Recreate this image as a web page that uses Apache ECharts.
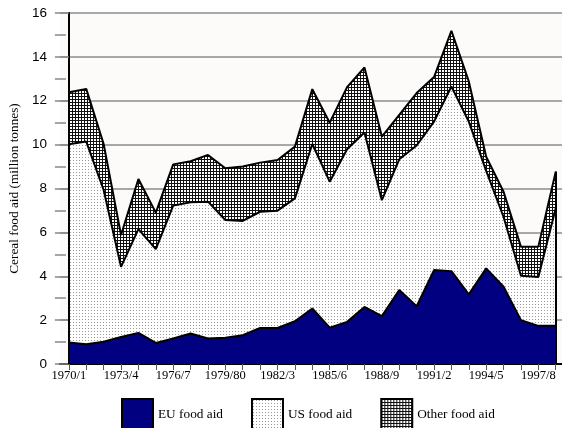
<!DOCTYPE html>
<html>
<head>
<meta charset="utf-8">
<script src="https://cdn.jsdelivr.net/npm/echarts@6/dist/echarts.min.js"></script>
<style>
html,body{margin:0;padding:0;background:#fff;}
#c{width:562px;height:428px;}
</style>
</head>
<body>
<div id="c"></div>
<script>
const categories = ['1970/1','1971/2','1972/3','1973/4','1974/5','1975/6','1976/7','1977/8','1978/9','1979/80',
  '1980/1','1981/2','1982/3','1983/4','1984/5','1985/6','1986/7','1987/8','1988/9','1989/90',
  '1990/1','1991/2','1992/3','1993/4','1994/5','1995/6','1996/7','1997/8','1998/9'];
const labelIndices = [0,3,6,9,12,15,18,21,24,27];
const euAid = [0.98,0.90,1.02,1.23,1.42,0.96,1.16,1.39,1.16,1.20,1.31,1.64,1.64,1.95,2.53,1.66,1.92,2.60,2.18,3.37,2.63,4.28,4.23,3.18,4.36,3.52,2.00,1.74,1.74];
const usAid = [9.04,9.24,6.91,3.20,4.73,4.28,6.06,5.98,6.24,5.36,5.21,5.30,5.35,5.60,7.50,6.65,7.87,7.95,5.29,5.96,7.33,6.77,8.42,7.87,4.44,3.18,2.02,2.23,5.36];
const otherAid = [2.37,2.40,2.10,1.45,2.28,1.66,1.88,1.87,2.13,2.36,2.48,2.24,2.31,2.36,2.50,2.69,2.83,2.97,2.90,2.03,2.39,2.03,2.54,1.83,0.65,1.15,1.32,1.38,1.67];

function makePattern(kind){
  const c = document.createElement('canvas');
  c.width = 3; c.height = 3;
  const ctx = c.getContext('2d');
  ctx.fillStyle = '#ffffff';
  ctx.fillRect(0,0,3,3);
  if (kind === 'dots') {
    ctx.fillStyle = '#9a9a9a';
    ctx.fillRect(1,1,1,1);
  } else {
    ctx.fillStyle = '#111111';
    ctx.fillRect(0,0,3,1);
    ctx.fillRect(0,0,1,3);
  }
  return {image: c, repeat: 'repeat'};
}
const dotPat = makePattern('dots');
const gridPat = makePattern('grid');

// cumulative tops (stack built from the arrays above)
const euTop = euAid.map(v => v);
const usTop = usAid.map((v,i) => euAid[i] + v);
const allTop = otherAid.map((v,i) => euAid[i] + usAid[i] + v);
const last = categories.length - 1;
const toPts = arr => arr.map((v,i)=>[i,v]);

const serif = '"Liberation Serif","Times New Roman",serif';
const sans = '"Liberation Sans",Arial,sans-serif';

const chart = echarts.init(document.getElementById('c'), null, {renderer:'canvas'});
chart.setOption({
  animation: false,
  backgroundColor: '#ffffff',
  grid: {left:57, right:0, top:13, bottom:64, show:true, backgroundColor:'#fcfbf9', borderWidth:0},
  xAxis: [{
    type:'value', min:-0.5146, max:28.36,
    axisLine:{show:true, onZero:false, lineStyle:{color:'#000', width:2}},
    axisTick:{show:true, length:6, customValues: categories.map((c,i)=>i), lineStyle:{color:'#555', width:1}},
    axisLabel:{show:true, margin:5, customValues: labelIndices, formatter: v => categories[Math.round(v)],
      fontFamily: serif, fontSize:12.5, color:'#000'},
    splitLine:{show:false}
  },{
    type:'value', position:'top', min:0, max:1,
    axisLine:{show:true, lineStyle:{color:'#000', width:2}},
    axisTick:{show:false}, axisLabel:{show:false}, splitLine:{show:false}
  }],
  yAxis: [{
    type:'value', min:0, max:16, interval:2,
    name:'Cereal food aid (million tonnes)', nameLocation:'middle', nameGap:34,
    nameTextStyle:{fontFamily: serif, fontSize:13.3, color:'#000'},
    axisLine:{show:true, lineStyle:{color:'#000', width:2}},
    axisTick:{show:true, length:7, lineStyle:{color:'#888', width:1.5}},
    axisLabel:{margin:13, fontFamily: sans, fontSize:13.5, color:'#000', formatter: v => String(v)},
    splitLine:{show:true, lineStyle:{color:'#8c8c8c', width:1.5}}
  },{
    type:'value', position:'left', offset:0, min:0, max:16, interval:1,
    axisLine:{show:false}, axisLabel:{show:false}, splitLine:{show:false},
    axisTick:{show:true, inside:true, length:6, lineStyle:{color:'#888', width:1.5}}
  },{
    type:'value', position:'left', offset:0, min:0, max:16, interval:1,
    axisLine:{show:false}, axisLabel:{show:false}, splitLine:{show:false},
    axisTick:{show:true, inside:false, length:5, lineStyle:{color:'#888', width:1.5}}
  }],
  legend: {
    left:116, top:393, itemWidth:31, itemHeight:32, itemGap:28,
    textStyle:{fontFamily: serif, fontSize:13.3, color:'#000'},
    data:[
      {name:'EU food aid', icon:'rect', itemStyle:{color:'#000080', borderColor:'#000', borderWidth:2}},
      {name:'US food aid', icon:'rect', itemStyle:{color:dotPat, borderColor:'#000', borderWidth:2}},
      {name:'Other food aid', icon:'rect', itemStyle:{color:gridPat, borderColor:'#000', borderWidth:2}}
    ]
  },
  series: [{
    name:'Other food aid', type:'line', data: toPts(allTop), showSymbol:false, symbol:'none',
    lineStyle:{color:'#000', width:2}, itemStyle:{color:'#333333'},
    areaStyle:{color:gridPat, opacity:1, origin:'start'}, z:2,
    markLine:{
      silent:true, symbol:['none','none'], label:{show:false},
      lineStyle:{color:'#000', width:2, type:'solid'},
      data:[
        [{coord:[0,0]},{coord:[0,allTop[0]]}],
        [{coord:[last,0]},{coord:[last,allTop[last]]}]
      ]
    }
  },{
    name:'US food aid', type:'line', data: toPts(usTop), showSymbol:false, symbol:'none',
    lineStyle:{color:'#000', width:2}, itemStyle:{color:'#cccccc'},
    areaStyle:{color:dotPat, opacity:1, origin:'start'}, z:3
  },{
    name:'EU food aid', type:'line', data: toPts(euTop), showSymbol:false, symbol:'none',
    lineStyle:{color:'#000', width:2}, itemStyle:{color:'#000080'},
    areaStyle:{color:'#000080', opacity:1, origin:'start'}, z:4
  }]
});
</script>
</body>
</html>
